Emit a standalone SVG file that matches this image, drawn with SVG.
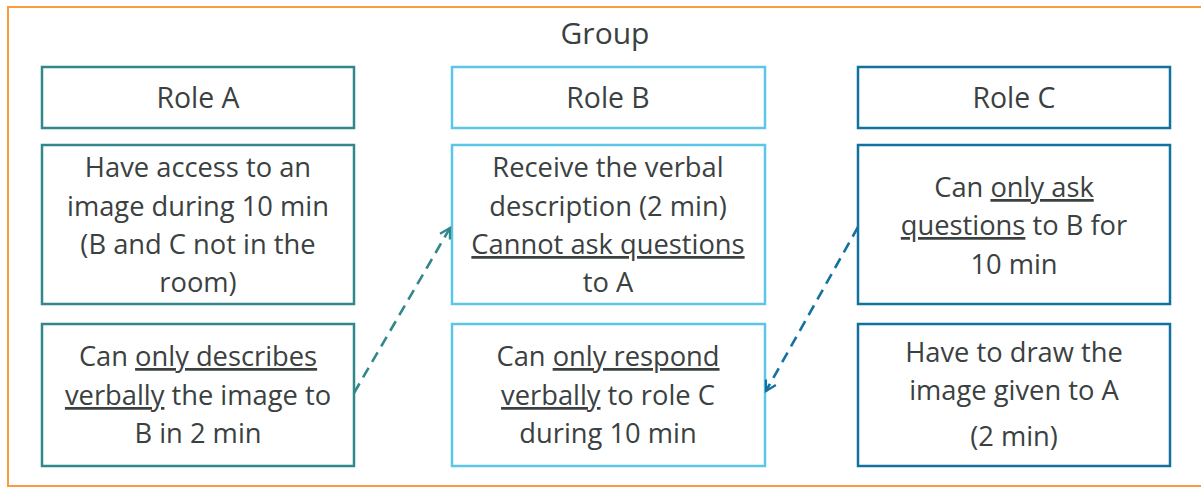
<svg xmlns="http://www.w3.org/2000/svg" width="1201" height="487" viewBox="0 0 1201 487">
<defs>
<style>
text{font-family:"Open Sans",Lato,"Liberation Sans",sans-serif;font-size:27.3px;fill:#3b4141;text-anchor:middle}
text.h{font-size:28.4px}
text.g{font-size:30px}
.u{text-decoration:underline}
rect.box{fill:#fff;stroke-width:2.5}
.a{stroke:#31878a}
.b{stroke:#5cc6e6}
.c{stroke:#12719f}
</style>
<marker id="ma" viewBox="0 0 10 10" refX="8" refY="5" markerWidth="5.5" markerHeight="5.5" orient="auto" markerUnits="strokeWidth"><path d="M1,1 L8,5 L1,9" fill="none" stroke="#31878a" stroke-width="1.6"/></marker>
<marker id="mc" viewBox="0 0 10 10" refX="8" refY="5" markerWidth="5.5" markerHeight="5.5" orient="auto" markerUnits="strokeWidth"><path d="M1,1 L8,5 L1,9" fill="none" stroke="#12719f" stroke-width="1.6"/></marker>
</defs>
<rect width="1201" height="487" fill="#fff"/>
<rect id="group" x="8" y="7" width="1200" height="479" fill="none" stroke="#f89c3c" stroke-width="2"/>
<text class="g" x="605" y="44">Group</text>

<g id="roleA">
<rect class="box a" x="42" y="67" width="312" height="61"/>
<text class="h" x="198" y="108">Role A</text>
</g>
<g id="roleA-access">
<rect class="box a" x="42" y="145" width="312" height="159"/>
<text x="198" y="177">Have access to an</text>
<text x="198" y="216">image during 10 min</text>
<text x="198" y="254">(B and C not in the</text>
<text x="198" y="292">room)</text>
</g>
<g id="roleA-describe">
<rect class="box a" x="42" y="324" width="312" height="142"/>
<text x="198" y="366">Can <tspan class="u">only describes</tspan></text>
<text x="198" y="405"><tspan class="u">verbally</tspan> the image to</text>
<text x="198" y="443">B in 2 min</text>
</g>

<g id="roleB">
<rect class="box b" x="452" y="67" width="313" height="61"/>
<text class="h" x="608" y="108">Role B</text>
</g>
<g id="roleB-receive">
<rect class="box b" x="452" y="145" width="313" height="159"/>
<text x="608" y="177">Receive the verbal</text>
<text x="608" y="216">description (2 min)</text>
<text x="608" y="254" class="u">Cannot ask questions</text>
<text x="608" y="292">to A</text>
</g>
<g id="roleB-respond">
<rect class="box b" x="452" y="324" width="313" height="142"/>
<text x="608" y="366">Can <tspan class="u">only respond</tspan></text>
<text x="608" y="405"><tspan class="u">verbally</tspan> to role C</text>
<text x="608" y="443">during 10 min</text>
</g>

<g id="roleC">
<rect class="box c" x="858" y="67" width="312" height="61"/>
<text class="h" x="1014" y="108">Role C</text>
</g>
<g id="roleC-ask">
<rect class="box c" x="858" y="145" width="312" height="159"/>
<text x="1014" y="197">Can <tspan class="u">only ask</tspan></text>
<text x="1014" y="235"><tspan class="u">questions</tspan> to B for</text>
<text x="1014" y="274">10 min</text>
</g>
<g id="roleC-draw">
<rect class="box c" x="858" y="324" width="312" height="142"/>
<text x="1014" y="362">Have to draw the</text>
<text x="1014" y="400">image given to A</text>
<text x="1014" y="446">(2 min)</text>
</g>

<g id="connectors" fill="none" stroke-width="2.6" stroke-dasharray="11,7">
<line x1="354" y1="393" x2="450" y2="228" stroke="#31878a" marker-end="url(#ma)"/>
<line x1="858" y1="227" x2="766" y2="391" stroke="#12719f" marker-end="url(#mc)"/>
</g>
</svg>
